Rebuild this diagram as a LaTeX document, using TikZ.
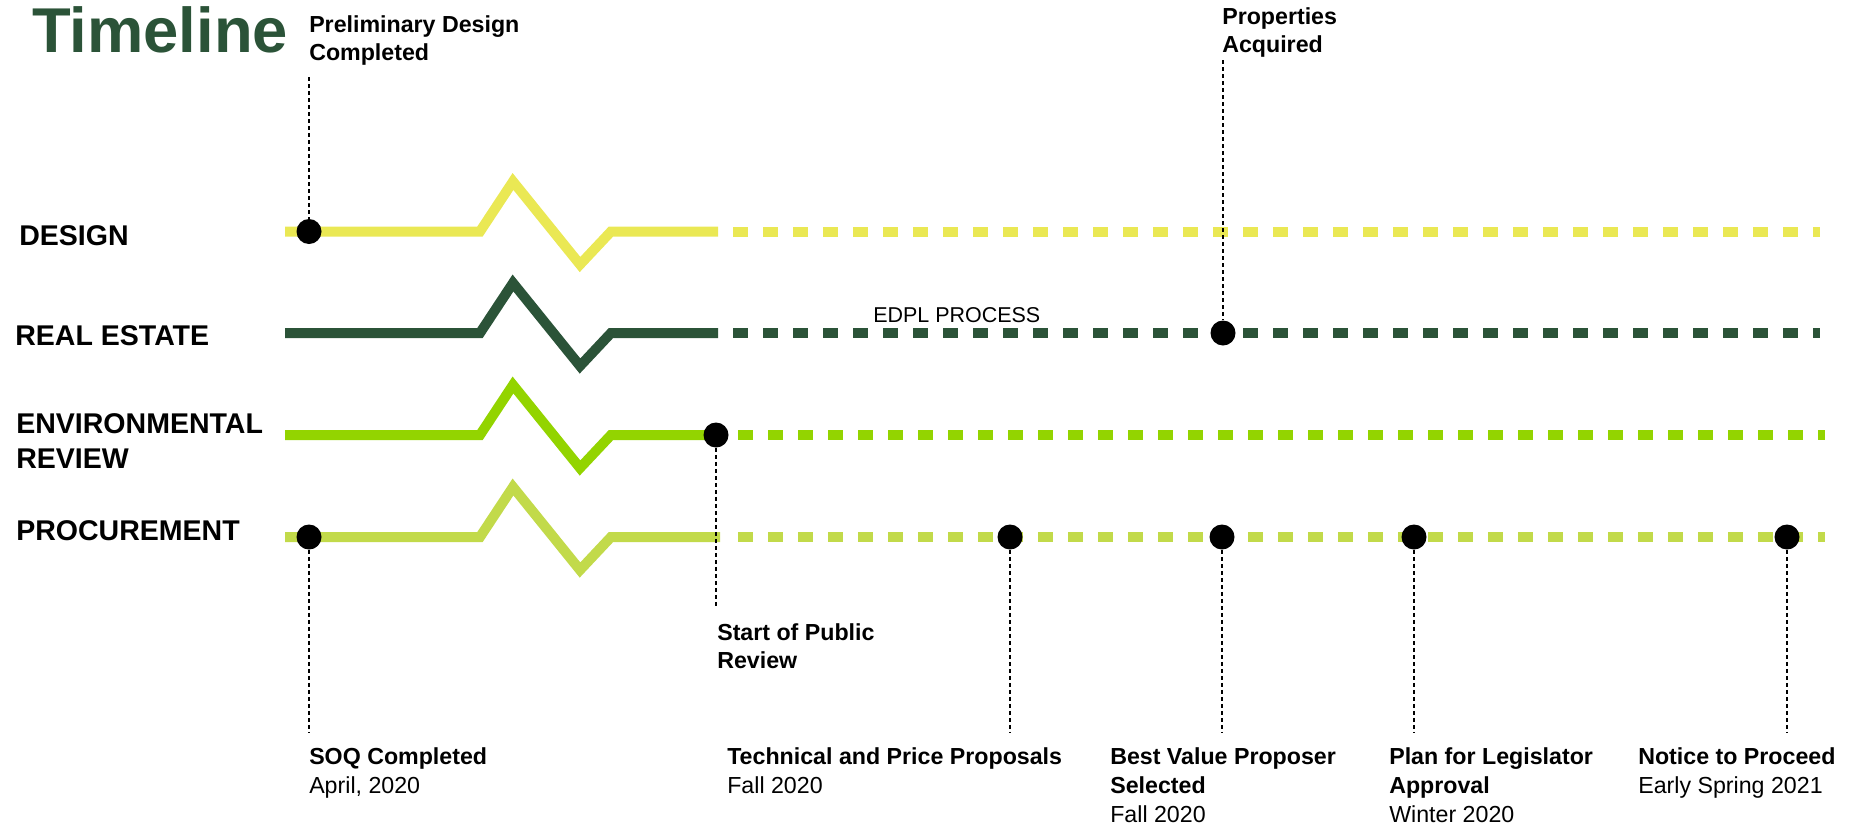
\documentclass[tikz,border=0pt]{standalone}
\usepackage{fontspec}
\setmainfont{Liberation Sans}
\definecolor{cdesign}{RGB}{234,232,84}
\definecolor{creal}{RGB}{43,83,56}
\definecolor{cenv}{RGB}{147,212,0}
\definecolor{cproc}{RGB}{194,218,74}
\begin{document}
\begin{tikzpicture}[x=0.75pt,y=-0.75pt,
  track/.style={line width=7.5pt},
  dashtrack/.style={line width=7.5pt, dash pattern=on 11.25pt off 11.25pt},
  dot/.style={circle, fill=black, inner sep=0pt, minimum size=18.75pt},
  leader/.style={black, line width=1.5pt, dash pattern=on 3pt off 2.25pt},
  lbl/.style={anchor=base west, inner sep=0pt, font=\bfseries\fontsize{17.4}{20}\selectfont},
  sublbl/.style={anchor=base west, inner sep=0pt, font=\fontsize{17.4}{20}\selectfont},
  rowlbl/.style={anchor=base west, inner sep=0pt, font=\bfseries\fontsize{21.4}{24}\selectfont},
  titlelbl/.style={anchor=base west, inner sep=0pt, text=creal, font=\bfseries\fontsize{47.5}{50}\selectfont}]
\useasboundingbox (0,0) rectangle (1855,832);

% title
\node[titlelbl] (title) at (32,52) {Timeline};

% row labels
\node[rowlbl] (rdesign) at (19,245) {DESIGN};
\node[rowlbl] (rreal) at (15,345) {REAL ESTATE};
\node[rowlbl] (renv1) at (16,433) {ENVIRONMENTAL};
\node[rowlbl] (renv2) at (16,468) {REVIEW};
\node[rowlbl] (rproc) at (16,540) {PROCUREMENT};

% track coordinates
\coordinate (ds) at (285,231.5);
\coordinate (de) at (718,231.5);
\coordinate (dd1) at (733,231.5);
\coordinate (dd2) at (1820,231.5);
\coordinate (rs) at (285,333);
\coordinate (re) at (718,333);
\coordinate (rd1) at (733,333);
\coordinate (rd2) at (1820,333);
\coordinate (es) at (285,435);
\coordinate (ee) at (716,435);
\coordinate (ed1) at (738,435);
\coordinate (ed2) at (1825,435);
\coordinate (ps) at (285,537);
\coordinate (pe) at (720,537);
\coordinate (pd1) at (738,537);
\coordinate (pd2) at (1825,537);

% tracks
\draw[track, cdesign] (ds) -- ++(195,0) -- ++(33,-50) -- ++(67,83) -- ++(31,-33) -- (de);
\draw[dashtrack, cdesign] (dd1) -- (dd2);
\draw[track, creal] (rs) -- ++(195,0) -- ++(33,-50) -- ++(67,83) -- ++(31,-33) -- (re);
\draw[dashtrack, creal] (rd1) -- (rd2);
\draw[track, cenv] (es) -- ++(195,0) -- ++(33,-50) -- ++(67,83) -- ++(31,-33) -- (ee);
\draw[dashtrack, cenv] (ed1) -- (ed2);
\draw[track, cproc] (ps) -- ++(195,0) -- ++(33,-50) -- ++(67,83) -- ++(31,-33) -- (pe);
\draw[dashtrack, cproc] (pd1) -- (pd2);

% leader ends
\coordinate (lpd) at (309,77);
\coordinate (lpa) at (1223,60);
\coordinate (lsp) at (716,608);
\coordinate (lsoq) at (309,732);
\coordinate (ltp) at (1010,732);
\coordinate (lbv) at (1222,732);
\coordinate (lpl) at (1414,732);
\coordinate (lnp) at (1787,732);

% dots
\node[dot] (dpd) at (309,231.5) {};
\node[dot] (dpa) at (1223,333) {};
\node[dot] (dsp) at (ee) {};
\node[dot] (dsoq) at (309,537) {};
\node[dot] (dtp) at (1010,537) {};
\node[dot] (dbv) at (1222,537) {};
\node[dot] (dpl) at (1414,537) {};
\node[dot] (dnp) at (1787,537) {};

% leaders
\draw[leader] (lpd) -- (dpd);
\draw[leader] (lpa) -- (dpa);
\draw[leader] (dsp) -- (lsp);
\draw[leader] (dsoq) -- (lsoq);
\draw[leader] (dtp) -- (ltp);
\draw[leader] (dbv) -- (lbv);
\draw[leader] (dpl) -- (lpl);
\draw[leader] (dnp) -- (lnp);

% labels
\node[lbl] (tpd1) at (309,32) {Preliminary Design};
\node[lbl] (tpd2) at (309,60) {Completed};
\node[lbl] (tpa1) at (1222,24) {Properties};
\node[lbl] (tpa2) at (1222,52) {Acquired};
\node[sublbl, font=\fontsize{16.1}{19}\selectfont] (tedpl) at (873,322) {EDPL PROCESS};
\node[lbl] (tsp1) at (717,640) {Start of Public};
\node[lbl] (tsp2) at (717,668) {Review};

\node[lbl] (tsoq1) at (309,764) {SOQ Completed};
\node[sublbl] (tsoq2) at (309,793) {April, 2020};
\node[lbl] (ttp1) at (727,764) {Technical and Price Proposals};
\node[sublbl] (ttp2) at (727,793) {Fall 2020};
\node[lbl] (tbv1) at (1110,764) {Best Value Proposer};
\node[lbl] (tbv2) at (1110,793) {Selected};
\node[sublbl] (tbv3) at (1110,822) {Fall 2020};
\node[lbl] (tpl1) at (1389,764) {Plan for Legislator};
\node[lbl] (tpl2) at (1389,793) {Approval};
\node[sublbl] (tpl3) at (1389,822) {Winter 2020};
\node[lbl] (tnp1) at (1638,764) {Notice to Proceed};
\node[sublbl] (tnp2) at (1638,793) {Early Spring 2021};
\end{tikzpicture}
\end{document}
